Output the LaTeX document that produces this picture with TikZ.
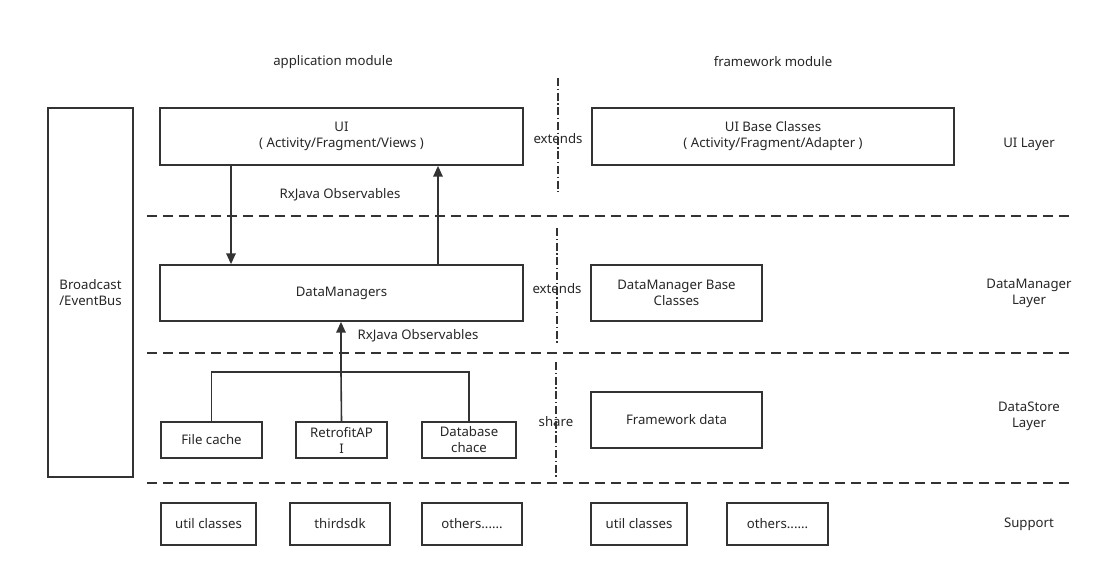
\documentclass[tikz,border=0pt]{standalone}
\usepackage{fontspec}
\setmainfont{Noto Sans}
\usetikzlibrary{arrows.meta}

\begin{document}
\begin{tikzpicture}[x=0.75pt,y=-0.75pt,font=\fontsize{9.9}{12}\selectfont,
        layer/.style={draw=black!80,line width=1.5pt,dash pattern=on 7.5pt off 4.5pt},
        split/.style={draw=black!80,line width=1.2pt,dash pattern=on 6pt off 2pt on 1pt off 2pt},
        wire/.style={draw=black!80,line width=1.2pt},
        arr/.style={wire,-{Triangle[length=8pt,width=7pt]}}]
        \useasboundingbox (0,0) rectangle (1111,577);

                % plain labels
                \begin{scope}[every node/.style={align=center,text=black!85}]
                        \node (app) at (333,62) {application module};
                        \node (fw) at (773,62) {framework module};
                        \node (uil) at (1029,144) {UI Layer};
                        \node (dml) at (1029,293) {DataManager\\Layer};
                        \node (dsl) at (1029,416) {DataStore\\Layer};
                        \node (sup) at (1029,524) {Support};
                        \node (rx1) at (340,195) {RxJava Observables};
                        \node (rx2) at (418,336) {RxJava Observables};
                        \node (ext1) at (558,139) {extends};
                        \node (ext2) at (557,289) {extends};
                        \node (shr) at (556,422) {share};
                \end{scope}

                % boxes
                \begin{scope}[every node/.style={draw=black!80,line width=1.3pt,align=center,inner sep=0,text=black!85}]
                        \node [minimum width=85*0.75pt,minimum height=369*0.75pt] (bus) at (90.5,292.5) {Broadcast\\/EventBus};
                        \node [minimum width=363*0.75pt,minimum height=57*0.75pt] (ui) at (341.5,136.5) {UI\\( Activity/Fragment/Views )};
                        \node [minimum width=362*0.75pt,minimum height=57*0.75pt] (uib) at (773,136.5) {UI Base Classes\\( Activity/Fragment/Adapter )};
                        \node [minimum width=363*0.75pt,minimum height=56*0.75pt] (dm) at (341.5,293) {DataManagers};
                        \node [minimum width=171*0.75pt,minimum height=56*0.75pt] (dmb) at (676.5,293) {DataManager Base\\Classes};
                        \node [minimum width=101*0.75pt,minimum height=36*0.75pt] (fc) at (211.5,440) {File cache};
                        \node [minimum width=91*0.75pt,minimum height=36*0.75pt] (ra) at (341.5,440) {RetrofitAP\\I};
                        \node [minimum width=94*0.75pt,minimum height=36*0.75pt] (dbc) at (469,440) {Database\\chace};
                        \node [minimum width=171*0.75pt,minimum height=56*0.75pt] (fd) at (676.5,420) {Framework data};
                        \node [minimum width=95*0.75pt,minimum height=42*0.75pt] (ut1) at (208.5,524) {util classes};
                        \node [minimum width=100*0.75pt,minimum height=42*0.75pt] (sdk) at (340,524) {thirdsdk};
                        \node [minimum width=100*0.75pt,minimum height=42*0.75pt] (oth1) at (472,524) {others......};
                        \node [minimum width=96*0.75pt,minimum height=42*0.75pt] (ut2) at (639,524) {util classes};
                        \node [minimum width=101*0.75pt,minimum height=42*0.75pt] (oth2) at (777.5,524) {others......};
                \end{scope}

                % layer borders
                \coordinate (l1a) at (147,216); \coordinate (l1b) at (1075,216);
                \coordinate (l2a) at (147,353); \coordinate (l2b) at (1075,353);
                \coordinate (l3a) at (147,483); \coordinate (l3b) at (1075,483);
                \draw[layer] (l1a) -- (l1b);
                \draw[layer] (l2a) -- (l2b);
                \draw[layer] (l3a) -- (l3b);

                % module borders
                \coordinate (s1a) at (558,78); \coordinate (s1b) at (558,192);
                \coordinate (s2a) at (557,228); \coordinate (s2b) at (557,345);
                \coordinate (s3a) at (556,362); \coordinate (s3b) at (556,478);
                \draw[split] (s1a) -- (s1b);
                \draw[split] (s2a) -- (s2b);
                \draw[split] (s3a) -- (s3b);

                % data flow
                \coordinate (join) at (341,372);
                \draw[arr] (ui.south -| 231,0) -- (dm.north -| 231,0);
                \draw[arr] (dm.north -| 438,0) -- (ui.south -| 438,0);
                \draw[wire] (fc.north) |- (join) -| (dbc.north);
                \draw[wire] (ra.north) -- (join);
                \draw[arr] (join) -- (dm.south -| join);
        \end{tikzpicture}
\end{document}
